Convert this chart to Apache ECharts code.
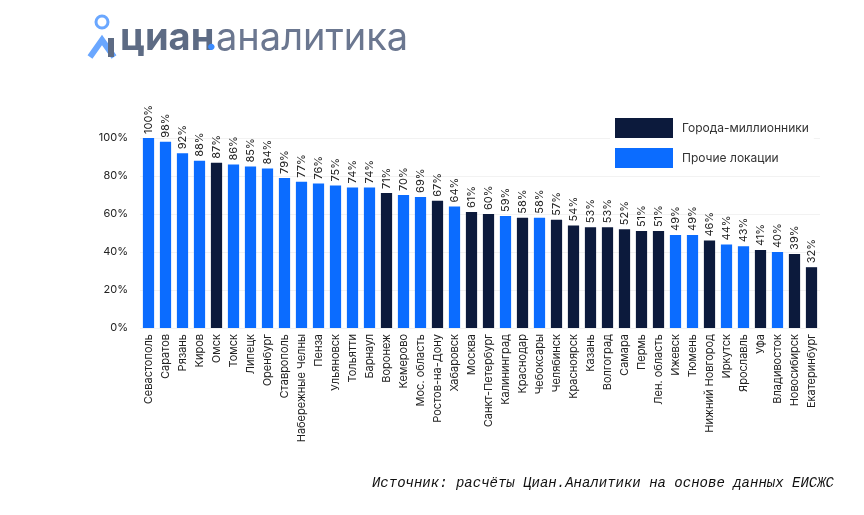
<!DOCTYPE html>
<html><head><meta charset="utf-8">
<script src="https://cdn.jsdelivr.net/npm/echarts@6/dist/echarts.min.js"></script>
<style>body{margin:0}#c{width:864px;height:515px}</style></head>
<body><div id="c"></div>
<script>
const categories=["Севастополь","Саратов","Рязань","Киров","Омск","Томск","Липецк","Оренбург","Ставрополь","Набережные Челны","Пенза","Ульяновск","Тольятти","Барнаул","Воронеж","Кемерово","Мос. область","Ростов-на-Дону","Хабаровск","Москва","Санкт-Петербург","Калининград","Краснодар","Чебоксары","Челябинск","Красноярск","Казань","Волгоград","Самара","Пермь","Лен. область","Ижевск","Тюмень","Нижний Новгород","Иркутск","Ярославль","Уфа","Владивосток","Новосибирск","Екатеринбург"];
const values=[100,98,92,88,87,86,85,84,79,77,76,75,74,74,71,70,69,67,64,61,60,59,58,58,57,54,53,53,52,51,51,49,49,46,44,43,41,40,39,32];
const isMillion=[0,0,0,0,1,0,0,0,0,0,0,0,0,0,1,0,0,1,0,1,1,0,1,0,1,1,1,1,1,1,1,0,0,1,0,0,1,0,1,1];
const seriesNames=["Города-миллионники","Прочие локации"];
const DARK="#0c1a3c",BLUE="#0b6cff";
const lbl={show:true,position:'top',rotate:90,align:'left',verticalAlign:'middle',distance:4,formatter:p=>p.value+'%',fontSize:11,color:'#222',fontFamily:'Inter'};
const chart=echarts.init(document.getElementById('c'));
chart.setOption({
 animation:false,
 grid:{left:140,right:44,top:138,bottom:187},
 legend:{orient:'vertical',left:610,top:113,itemWidth:58,itemHeight:20,itemGap:10,icon:'rect',
  textStyle:{fontSize:12,color:'#333',fontFamily:'Inter',padding:[0,0,0,4]},backgroundColor:'#fff',data:seriesNames},
 xAxis:{type:'category',data:categories,axisTick:{show:false},axisLine:{show:false},
  axisLabel:{rotate:90,interval:0,fontSize:11,color:'#222',fontFamily:'Inter',margin:6}},
 yAxis:{type:'value',min:0,max:100,interval:20,axisLabel:{formatter:'{value}%',fontSize:11,color:'#222',fontFamily:'Inter',margin:12},
  splitLine:{lineStyle:{color:'#f2f2f2'}}},
 series:[
  {name:seriesNames[0],type:'bar',stack:'a',barWidth:'66%',itemStyle:{color:DARK},label:lbl,
   data:values.map((v,i)=>isMillion[i]?v:'-')},
  {name:seriesNames[1],type:'bar',stack:'a',barWidth:'66%',itemStyle:{color:BLUE},label:lbl,
   data:values.map((v,i)=>isMillion[i]?'-':v)}
 ],
 graphic:[
  {type:'circle',shape:{cx:102,cy:22,r:6},style:{fill:'none',stroke:'#6aa7ff',lineWidth:3}},
  {type:'polyline',shape:{points:[[90,57],[102,40],[114,57]]},style:{stroke:'#6aa7ff',lineWidth:6,fill:'none'}},
  {type:'rect',shape:{x:108,y:38,width:6,height:19},style:{fill:'#5d6b84'}},
  {type:'text',left:120,top:20,style:{text:'циан',font:'bold 38px Inter',fill:'#5d6b84'}},
  {type:'text',left:205,top:20,style:{text:'.',font:'bold 38px Inter',fill:'#3b8bff'}},
  {type:'text',left:216,top:20,style:{text:'аналитика',font:'38px Inter',fill:'#6b7790'}},
  {type:'text',right:30,top:476,style:{text:'Источник: расчёты Циан.Аналитики на основе данных ЕИСЖС',font:'italic 14px "Liberation Mono"',fill:'#111'}}
 ]
});
</script></body></html>
